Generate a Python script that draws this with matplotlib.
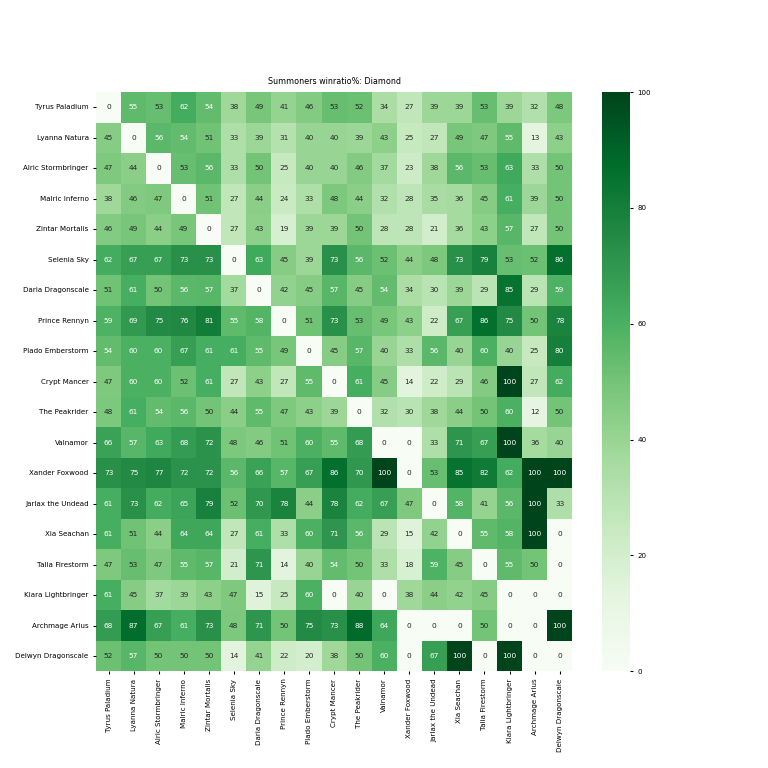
import numpy as np
import pandas as pd
import matplotlib
matplotlib.use("Agg")
import matplotlib.pyplot as plt
import seaborn as sns

# summoner names (rows = player, cols = opponent)
summoners = ["Tyrus Paladium", "Lyanna Natura", "Alric Stormbringer", "Malric Inferno",
             "Zintar Mortalis", "Selenia Sky", "Daria Dragonscale", "Prince Rennyn",
             "Plado Emberstorm", "Crypt Mancer", "The Peakrider", "Valnamor",
             "Xander Foxwood", "Jarlax the Undead", "Xia Seachan", "Talia Firestorm",
             "Kiara Lightbringer", "Archmage Arius", "Delwyn Dragonscale"]

tyrus = [0, 55, 53, 62, 54, 38, 49, 41, 46, 53, 52, 34, 27, 39, 39, 53, 39, 32, 48]
lyanna = [45, 0, 56, 54, 51, 33, 39, 31, 40, 40, 39, 43, 25, 27, 49, 47, 55, 13, 43]
alric = [47, 44, 0, 53, 56, 33, 50, 25, 40, 40, 46, 37, 23, 38, 56, 53, 63, 33, 50]
malric = [38, 46, 47, 0, 51, 27, 44, 24, 33, 48, 44, 32, 28, 35, 36, 45, 61, 39, 50]
zintar = [46, 49, 44, 49, 0, 27, 43, 19, 39, 39, 50, 28, 28, 21, 36, 43, 57, 27, 50]
selenia = [62, 67, 67, 73, 73, 0, 63, 45, 39, 73, 56, 52, 44, 48, 73, 79, 53, 52, 86]
daria = [51, 61, 50, 56, 57, 37, 0, 42, 45, 57, 45, 54, 34, 30, 39, 29, 85, 29, 59]
rennyn = [59, 69, 75, 76, 81, 55, 58, 0, 51, 73, 53, 49, 43, 22, 67, 86, 75, 50, 78]
plado = [54, 60, 60, 67, 61, 61, 55, 49, 0, 45, 57, 40, 33, 56, 40, 60, 40, 25, 80]
crypt = [47, 60, 60, 52, 61, 27, 43, 27, 55, 0, 61, 45, 14, 22, 29, 46, 100, 27, 62]
peakrider = [48, 61, 54, 56, 50, 44, 55, 47, 43, 39, 0, 32, 30, 38, 44, 50, 60, 12, 50]
valnamor = [66, 57, 63, 68, 72, 48, 46, 51, 60, 55, 68, 0, 0, 33, 71, 67, 100, 36, 40]
xander = [73, 75, 77, 72, 72, 56, 66, 57, 67, 86, 70, 100, 0, 53, 85, 82, 62, 100, 100]
jarlax = [61, 73, 62, 65, 79, 52, 70, 78, 44, 78, 62, 67, 47, 0, 58, 41, 56, 100, 33]
xia = [61, 51, 44, 64, 64, 27, 61, 33, 60, 71, 56, 29, 15, 42, 0, 55, 58, 100, 0]
talia = [47, 53, 47, 55, 57, 21, 71, 14, 40, 54, 50, 33, 18, 59, 45, 0, 55, 50, 0]
kiara = [61, 45, 37, 39, 43, 47, 15, 25, 60, 0, 40, 0, 38, 44, 42, 45, 0, 0, 0]
arius = [68, 87, 67, 61, 73, 48, 71, 50, 75, 73, 88, 64, 0, 0, 0, 50, 0, 0, 100]
delwyn = [52, 57, 50, 50, 50, 14, 41, 22, 20, 38, 50, 60, 0, 67, 100, 0, 100, 0, 0]

rows = [tyrus, lyanna, alric, malric, zintar, selenia, daria, rennyn, plado, crypt,
        peakrider, valnamor, xander, jarlax, xia, talia, kiara, arius, delwyn]
df = pd.DataFrame(rows, index=summoners, columns=summoners)

fig = plt.figure(figsize=(8, 8), dpi=96)
ax = fig.add_axes([0.125, 0.126, 0.620, 0.754])
cax = fig.add_axes([0.784, 0.126, 0.0365, 0.754])

sns.heatmap(df, cmap="Greens", vmin=0, vmax=100, annot=True, fmt="d",
            annot_kws={"fontsize": 5.5}, ax=ax, cbar_ax=cax)

ax.set_title("Summoners winratio%: Diamond", fontsize=6)
ax.tick_params(labelsize=5.3, length=2)
plt.setp(ax.get_xticklabels(), rotation=90)
plt.setp(ax.get_yticklabels(), rotation=0)
cax.tick_params(labelsize=5.3, length=2)
cax.set_yticks([0, 20, 40, 60, 80, 100])

fig.savefig("out.png", dpi=96)
